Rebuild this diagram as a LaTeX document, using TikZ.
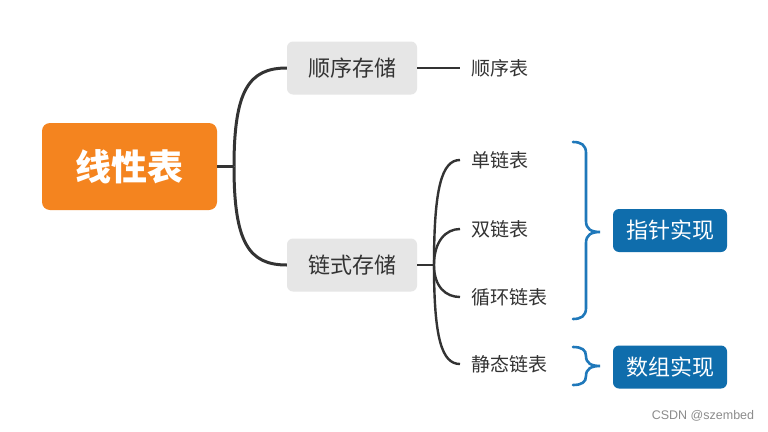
\documentclass[tikz,border=0pt]{standalone}
\usepackage{fontspec}
\setmainfont{Noto Sans CJK SC}
\newfontfamily\wmfont{Liberation Sans}
\definecolor{rootc}{HTML}{F4841F}
\definecolor{grayc}{HTML}{E6E6E6}
\definecolor{linec}{HTML}{333333}
\definecolor{bluec}{HTML}{0F6DAC}
\definecolor{bracec}{HTML}{1F78BA}
\definecolor{wmc}{HTML}{8C8C8C}
\tikzset{
  rootbox/.style={fill=rootc, rounded corners=8pt, minimum width=175pt, minimum height=87pt, inner sep=0pt, text=white, font=\fontsize{36}{40}\selectfont\bfseries},
  midbox/.style={fill=grayc, rounded corners=6pt, minimum width=130pt, minimum height=53pt, inner sep=0pt, text=linec, font=\fontsize{22}{26}\selectfont},
  leaf/.style={anchor=west, inner xsep=11pt, inner ysep=0pt, text=linec, font=\fontsize{19}{22}\selectfont},
  implbox/.style={fill=bluec, rounded corners=6pt, minimum width=114pt, minimum height=43pt, inner sep=0pt, text=white, font=\fontsize{22}{26}\selectfont},
  branch/.style={draw=linec, line width=3pt},
  twig/.style={draw=linec, line width=2.4pt},
  bracel/.style={draw=bracec, line width=2.6pt, line cap=round},
}
\begin{document}
\begin{tikzpicture}[x=1pt,y=-1pt]
\useasboundingbox (0,0) rectangle (768,431);
\fill[white] (0,0) rectangle (768,431);
% nodes
\node[rootbox] (root) at (129.5,166.5) {线性表};
\node[midbox] (seq) at (352,68) {顺序存储};
\node[midbox] (lnk) at (352,265) {链式存储};
\node[leaf] (seqt) at (460,68) {顺序表};
\node[leaf] (l1) at (460,160) {单链表};
\node[leaf] (l2) at (460,229) {双链表};
\node[leaf] (l3) at (460,297) {循环链表};
\node[leaf] (l4) at (460,364) {静态链表};
\node[implbox] (ptr) at (670,230.5) {指针实现};
\node[implbox] (arr) at (670,367) {数组实现};
\node[text=wmc, font=\wmfont\fontsize{12.5}{15}\selectfont, inner sep=0pt] (wm) at (703,416) {CSDN @szembed};
% root branches
\coordinate (s1) at (234,166.5);
\draw[branch] (root.east) -- (s1);
\draw[branch] (s1) .. controls +(0,-76) and +(-38,0) .. (seq.west);
\draw[branch] (s1) .. controls +(0,76) and +(-38,0) .. (lnk.west);
% seq leaf
\draw[twig] (seq.east) -- (seqt.west);
% link leaves
\coordinate (s2) at (434,265);
\draw[twig] (lnk.east) -- (s2);
\draw[twig] (s2) .. controls +(0,-78) and +(-18,0) .. (l1.west);
\draw[twig] (s2) .. controls +(0,-24) and +(-14,0) .. (l2.west);
\draw[twig] (s2) .. controls +(0,22) and +(-14,0) .. (l3.west);
\draw[twig] (s2) .. controls +(0,74) and +(-18,0) .. (l4.west);
% braces
\coordinate (b1t) at (573,142);
\coordinate (b1m) at (600,232);
\coordinate (b1b) at (573,319);
\draw[bracel] (b1t) .. controls (581,142) and (586,145) .. (586,153) -- (586,221)
  .. controls (586,229) and (591,232) .. (b1m)
  .. controls (591,232) and (586,235) .. (586,243) -- (586,308)
  .. controls (586,316) and (581,319) .. (b1b);
\coordinate (b2t) at (573,347);
\coordinate (b2m) at (600,366);
\coordinate (b2b) at (573,385);
\draw[bracel] (b2t) .. controls (582,347) and (586,350) .. (586,356)
  .. controls (586,363) and (591,366) .. (b2m)
  .. controls (591,366) and (586,369) .. (586,376)
  .. controls (586,382) and (582,385) .. (b2b);
\end{tikzpicture}
\end{document}
